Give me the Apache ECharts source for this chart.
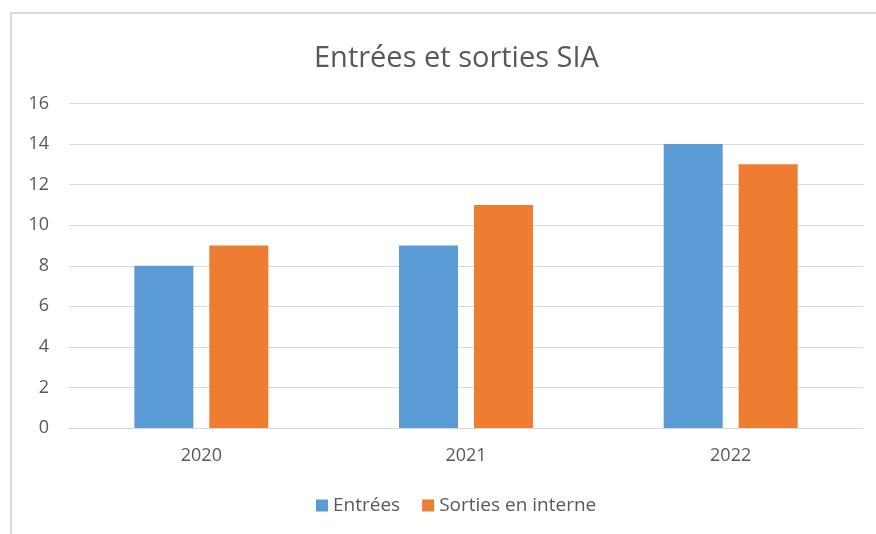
<!DOCTYPE html>
<html>
<head>
<meta charset="utf-8">
<script src="https://cdn.jsdelivr.net/npm/echarts@6/dist/echarts.min.js"></script>
<style>
  html, body { margin: 0; padding: 0; background: #fff; }
  #chart { width: 876px; height: 534px; }
</style>
</head>
<body>
<div id="chart"></div>
<script>
// données du graphique
var years = ['2020', '2021', '2022'];
var entrees = [8, 9, 14];
var sorties = [9, 11, 13];

(function(){

    var chart = echarts.init(document.getElementById('chart'));

    var textColor = '#595959';
    var fontFam = '"Open Sans", sans-serif';

    var option = {
        backgroundColor: '#fff',
        animation: false,
        textStyle: { fontFamily: fontFam },
        graphic: [{
            type: 'rect',
            shape: { x: 11, y: 13, width: 900, height: 560 },
            style: { fill: 'none', stroke: '#d9d9d9', lineWidth: 2 },
            silent: true
        }],
        title: {
            text: 'Entrées et sorties SIA',
            left: 309,
            top: 39,
            textStyle: { color: textColor, fontSize: 29, fontWeight: 'normal', fontFamily: fontFam }
        },
        legend: {
            data: ['Entrées', 'Sorties en interne'],
            bottom: 14,
            left: 311,
            icon: 'rect',
            itemWidth: 12,
            itemHeight: 12,
            itemGap: 22,
            textStyle: { color: textColor, fontSize: 19, fontFamily: fontFam }
        },
        grid: {
            left: 69,
            right: 13,
            top: 103.5,
            bottom: 106
        },
        xAxis: {
            type: 'category',
            data: years,
            axisLine: { lineStyle: { color: '#d9d9d9', width: 1 } },
            axisTick: { show: false },
            axisLabel: { color: textColor, fontSize: 18, margin: 19 }
        },
        yAxis: {
            type: 'value',
            min: 0,
            max: 16,
            interval: 2,
            axisLine: { show: false },
            axisTick: { show: false },
            axisLabel: { color: textColor, fontSize: 18, margin: 20 },
            splitLine: { lineStyle: { color: '#d9d9d9', width: 1 } }
        },
        series: [
            {
                name: 'Entrées',
                type: 'bar',
                data: entrees,
                barWidth: '22.3%',
                barGap: '27%',
                itemStyle: { color: '#5b9bd5' }
            },
            {
                name: 'Sorties en interne',
                type: 'bar',
                data: sorties,
                barWidth: '22.3%',
                itemStyle: { color: '#ed7d31' }
            }
        ]
    };

    chart.setOption(option);
})();
</script>
</body>
</html>
